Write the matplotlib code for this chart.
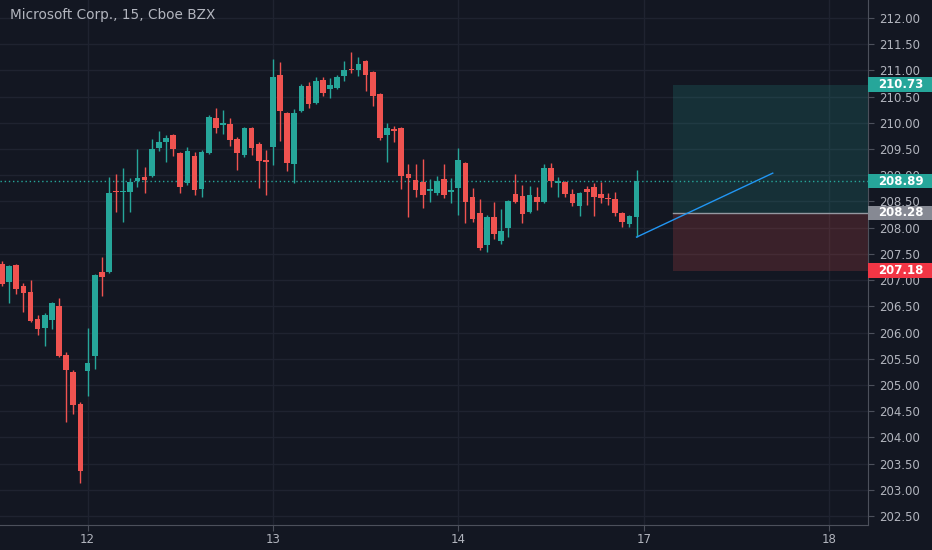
import matplotlib
matplotlib.use("Agg")
import matplotlib.pyplot as plt
from matplotlib.patches import Rectangle
from matplotlib.transforms import blended_transform_factory

# === 15 min candles (last part of day 11 .. day 14) ===
opens = [207.31, 206.96, 207.29, 206.89, 206.77, 206.26, 206.09, 206.24, 206.51, 205.57,
         205.25, 204.64, 205.27, 205.55, 207.15, 207.15, 208.70, 208.68, 208.68, 208.89,
         208.97, 208.99, 209.52, 209.63, 209.77, 209.42, 208.85, 209.37, 208.74, 209.42,
         210.09, 209.96, 209.98, 209.69, 209.39, 209.90, 209.60, 209.29, 209.54, 210.91,
         210.19, 209.21, 210.23, 210.70, 210.38, 210.82, 210.65, 210.66, 210.89, 211.03,
         211.01, 211.18, 210.97, 210.55, 209.77, 209.88, 209.90, 209.02, 208.91, 208.87,
         208.70, 208.66, 208.93, 208.68, 208.76, 209.23, 208.59, 208.28, 207.67, 208.20,
         207.75, 207.99, 208.64, 208.60, 208.30, 208.59, 208.49, 209.14, 208.85, 208.87,
         208.64, 208.41, 208.74, 208.78, 208.64, 208.57, 208.55, 208.28, 208.07, 208.20]
highs = [207.36, 207.29, 207.31, 206.94, 207.00, 206.33, 206.37, 206.58, 206.66, 205.63,
         205.28, 204.67, 206.09, 207.12, 207.44, 208.97, 209.02, 209.14, 208.95, 209.50,
         209.16, 209.69, 209.84, 209.77, 209.79, 209.44, 209.54, 209.44, 209.48, 210.15,
         210.28, 210.24, 210.09, 209.73, 209.92, 209.92, 209.63, 209.48, 211.22, 211.16,
         210.21, 210.26, 210.74, 210.78, 210.87, 210.87, 210.86, 210.91, 211.18, 211.35,
         211.26, 211.20, 210.99, 210.57, 210.00, 209.94, 209.92, 209.21, 209.21, 209.31,
         208.93, 208.99, 209.21, 208.95, 209.52, 209.25, 208.76, 208.55, 208.24, 208.49,
         208.36, 208.53, 209.02, 208.81, 208.80, 208.78, 209.21, 209.23, 208.97, 208.89,
         208.74, 208.68, 208.80, 208.85, 208.87, 208.66, 208.68, 208.30, 208.24, 209.10]
lows = [206.89, 206.56, 206.73, 206.39, 206.20, 205.95, 205.74, 206.07, 205.53, 204.29,
        204.45, 203.13, 204.79, 205.30, 206.70, 207.14, 208.30, 208.11, 208.30, 208.78,
        208.66, 208.97, 209.46, 209.25, 209.37, 208.66, 208.81, 208.62, 208.59, 209.41,
        209.81, 209.79, 209.56, 209.10, 209.35, 209.39, 208.76, 208.62, 209.20, 209.65,
        209.08, 208.85, 210.21, 210.28, 210.36, 210.51, 210.47, 210.65, 210.80, 210.95,
        210.89, 210.61, 210.32, 209.67, 209.25, 209.63, 208.74, 208.20, 208.59, 208.38,
        208.49, 208.62, 208.57, 208.47, 208.24, 208.09, 208.11, 207.57, 207.54, 207.78,
        207.69, 207.82, 208.47, 208.09, 208.28, 208.34, 208.47, 208.78, 208.59, 208.59,
        208.41, 208.22, 208.43, 208.22, 208.47, 208.43, 208.22, 208.01, 208.01, 207.82]
closes = [206.93, 207.27, 206.83, 206.75, 206.22, 206.07, 206.33, 206.56, 205.55, 205.28,
          204.62, 203.36, 205.42, 207.10, 207.06, 208.66, 208.68, 208.70, 208.87, 208.95,
          208.91, 209.50, 209.63, 209.71, 209.50, 208.78, 209.46, 208.72, 209.44, 210.11,
          209.90, 210.00, 209.67, 209.42, 209.90, 209.52, 209.27, 209.25, 210.87, 210.23,
          209.23, 210.19, 210.70, 210.36, 210.80, 210.57, 210.72, 210.87, 211.01, 211.01,
          211.12, 210.91, 210.51, 209.71, 209.90, 209.84, 208.99, 208.95, 208.72, 208.62,
          208.74, 208.89, 208.62, 208.72, 209.29, 208.49, 208.17, 207.61, 208.20, 207.88,
          207.94, 208.51, 208.49, 208.26, 208.62, 208.49, 209.14, 208.89, 208.89, 208.64,
          208.47, 208.66, 208.68, 208.59, 208.57, 208.55, 208.28, 208.11, 208.22, 208.89]

# session starts (bar index) and their labels
day_ticks = [12, 38, 64, 90, 116]
day_labels = ["12", "13", "14", "17", "18"]
price_ticks = [202.5 + 0.5 * k for k in range(20)]

# long position tool + trend line
target_price = 210.73
entry_price = 208.28
stop_price = 207.18
last_price = 208.89
box_start = 94.1
trend_x = [89, 108.1]
trend_y = [207.82, 209.04]

# === Style ===
BG = "#131722"
GRID = "#1f2330"
TEXT = "#b2b5be"
AXLINE = "#4c505b"
UP = "#26a69a"
DOWN = "#ef5350"

plt.rcParams["font.family"] = ["DejaVu Sans"]

fig = plt.figure(figsize=(9.32, 5.50), dpi=100, facecolor=BG)
ax = fig.add_axes([0, 25 / 550, 868 / 932, 525 / 550], facecolor=BG)

x_left, x_right = -0.28, 121.46
ax.set_xlim(x_left, x_right)
ax.set_ylim(202.328, 212.343)

# grid
for p in price_ticks:
    ax.axhline(p, color=GRID, lw=1, zorder=0)
for d in day_ticks:
    ax.axvline(d, color=GRID, lw=1, zorder=0)

# position box
ax.add_patch(Rectangle((box_start, entry_price), x_right - box_start, target_price - entry_price,
                       facecolor=UP, alpha=0.18, edgecolor="none", zorder=1))
ax.add_patch(Rectangle((box_start, stop_price), x_right - box_start, entry_price - stop_price,
                       facecolor=DOWN, alpha=0.18, edgecolor="none", zorder=1))
ax.plot([box_start, x_right], [entry_price, entry_price], color="#9598a1", lw=1, zorder=2)

# last price line
ax.axhline(last_price, color=UP, lw=1, linestyle=(0, (1, 2)), zorder=2)

# candles
for i, (o, h, l, c) in enumerate(zip(opens, highs, lows, closes)):
    col = UP if c >= o else DOWN
    ax.vlines(i, l, h, color=col, lw=1, zorder=3)
    ax.bar(i, max(abs(c - o), 0.025), bottom=min(o, c), width=0.8,
           color=col, edgecolor="none", zorder=4)

# trend line
ax.plot(trend_x, trend_y, color="#2196f3", lw=1, zorder=5)

# axes look
for side in ["top", "left"]:
    ax.spines[side].set_visible(False)
for side in ["right", "bottom"]:
    ax.spines[side].set_color(AXLINE)

ax.set_xticks(day_ticks)
ax.set_xticklabels(day_labels)
ax.yaxis.tick_right()
ax.set_yticks(price_ticks)
ax.set_yticklabels([f"{p:.2f}" for p in price_ticks])
ax.tick_params(axis="both", colors=AXLINE, labelcolor=TEXT, labelsize=8.5, length=4)
ax.tick_params(axis="x", pad=2)
ax.tick_params(axis="y", pad=4)

# price labels on the scale
trans = blended_transform_factory(ax.transAxes, ax.transData)
for val, col in [(target_price, UP), (last_price, UP), (entry_price, "#868993"), (stop_price, "#f23645")]:
    ax.add_patch(Rectangle((1.0, val - 0.14), 0.08, 0.28, transform=trans, facecolor=col,
                           edgecolor="none", clip_on=False, zorder=6))
    ax.text(1.012, val, f"{val:.2f}", transform=trans, color="white", fontsize=8.5,
            fontweight="bold", va="center", ha="left", clip_on=False, zorder=7)

fig.text(10 / 932, 1 - 15 / 550, "Microsoft Corp., 15, Cboe BZX", color=TEXT,
         fontsize=9.8, va="center", ha="left")

fig.savefig("out.png", dpi=100, facecolor=BG)
